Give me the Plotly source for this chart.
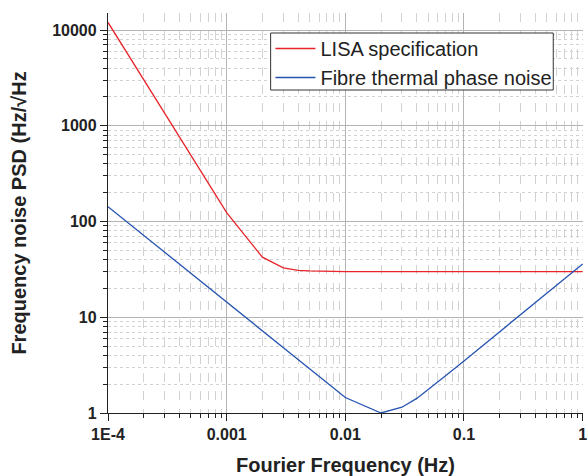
import plotly.graph_objects as go

# Fourier frequency grid (Hz) and noise levels (Hz/sqrt(Hz))
lisa_freq = [1e-4, 1e-3, 2e-3, 3e-3, 4e-3, 5e-3, 1e-2, 1e-1, 1.0]
lisa_psd = [12000, 124, 42.4, 32.8, 30.9, 30.5, 30.0, 30.0, 30.0]

fibre_freq = [1e-4, 1e-3, 1e-2, 2e-2, 3e-2, 4e-2, 5e-2, 7e-2, 1e-1, 1.0]
fibre_psd = [143, 14.3, 1.45, 1.0, 1.15, 1.42, 1.75, 2.45, 3.5, 36]

x_tickvals = [1e-4, 1e-3, 1e-2, 1e-1, 1]
x_ticktext = ["1E-4", "0.001", "0.01", "0.1", "1"]
y_tickvals = [1, 10, 100, 1000, 10000]
y_ticktext = ["1", "10", "100", "1000", "10000"]

FONT = "Liberation Sans, Arial, sans-serif"

fig = go.Figure()
fig.add_trace(go.Scatter(x=lisa_freq, y=lisa_psd, mode="lines",
                         name="LISA specification",
                         line=dict(color="#e8232a", width=1.3)))
fig.add_trace(go.Scatter(x=fibre_freq, y=fibre_psd, mode="lines",
                         name="Fibre thermal phase noise",
                         line=dict(color="#2553b0", width=1.3)))


def axis_style(minor_dash):
    return dict(
        type="log",
        showline=True, linecolor="#222", linewidth=1.3,
        ticks="outside", ticklen=7, tickwidth=1.3, tickcolor="#222",
        showgrid=True, gridcolor="#b4b4b4", gridwidth=1,
        tickfont=dict(family=FONT, size=16, color="#222", weight="bold"),
        ticklabeloverflow="allow",
        minor=dict(dtick="D1", ticks="outside", ticklen=4, tickcolor="#222",
                   tickwidth=1, showgrid=True, gridcolor="#d2d2d2",
                   griddash=minor_dash, gridwidth=1),
        zeroline=False, mirror=False,
    )


fig.update_xaxes(**axis_style("dash"), range=[-4, 0.003],
                 tickvals=x_tickvals, ticktext=x_ticktext,
                 title=dict(text="Fourier Frequency (Hz)", standoff=16,
                            font=dict(family=FONT, size=20, color="#222", weight="bold")))
fig.update_yaxes(**axis_style("dot"), range=[0, 4.178],
                 tickvals=y_tickvals, ticktext=y_ticktext,
                 title=dict(text="Frequency noise PSD (Hz/√Hz", standoff=20,
                            font=dict(family=FONT, size=20, color="#222", weight="bold")))

# Legend frame: white box with a thin dark border behind the legend entries
fig.add_shape(type="rect", xref="paper", yref="paper",
              x0=0.3424, x1=0.9374, y0=0.8075, y1=0.95,
              line=dict(color="#333", width=1), fillcolor="white", layer="above")

fig.update_layout(
    width=587, height=476,
    margin=dict(l=108, r=0, t=13, b=63),
    plot_bgcolor="white", paper_bgcolor="white",
    legend=dict(x=0.342, y=0.96, xanchor="left", yanchor="top",
                bgcolor="rgba(0,0,0,0)", borderwidth=0,
                font=dict(family=FONT, size=20, color="#222"),
                tracegroupgap=0, itemwidth=40),
    showlegend=True,
)

fig.write_html("out.html")
